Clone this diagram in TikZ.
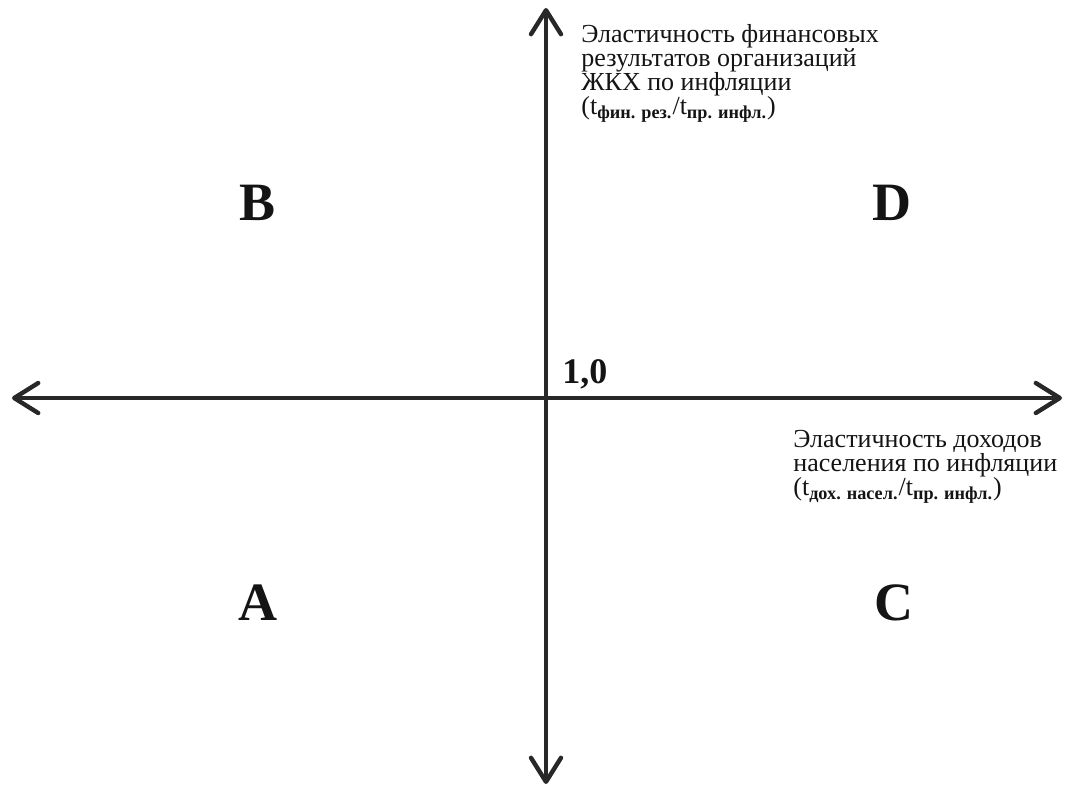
\documentclass[tikz,border=0pt]{standalone}
\usepackage{fontspec}
\setmainfont{Liberation Serif}
\usetikzlibrary{arrows.meta}
\usetikzlibrary{positioning}

\begin{document}
\begin{tikzpicture}[x=0.5pt, y=-0.5pt, >={Straight Barb[length=12pt, width=15pt, round]}, line cap=round, line join=round]
			
			% Colors
			\definecolor{axisA}{RGB}{40,40,40}
			\definecolor{textA}{RGB}{20,20,20}
			
			\tikzset{
				axis/.style={<->, line width=2.2pt, draw=axisA},
				lab/.style={align=left, inner sep=0pt, text=textA, font=\fontsize{13pt}{12pt}\selectfont},
				quad/.style={inner sep=0pt, text=textA, font=\fontsize{27pt}{30pt}\selectfont\bfseries},
				orig/.style={inner sep=0pt, text=textA, font=\fontsize{18pt}{20pt}\selectfont\bfseries},
			}
			
			\useasboundingbox (0,0) rectangle (1066,787);
			
			% --- Axes ends
			\coordinate (west) at (12,398);
			\coordinate (east) at (1062,398);
			\coordinate (north) at (546,8);
			\coordinate (south) at (546,784);
			\coordinate (origin) at (546,398);
			
			\draw[axis] (west) -- (east);
			\draw[axis] (south) -- (north);
			
			% --- Origin value
			\node[orig, anchor=base west] (one) at (562,383) {1,0};
			
			% --- Axis labels
			\node[lab, anchor=north west] (ylab) at (581,24) {%
				Эластичность финансовых\\
				результатов организаций\\
				ЖКХ по инфляции\\
				(t\textsubscript{\textbf{фин. рез.}}/t\textsubscript{\textbf{пр. инфл.}})
			};
			\node[lab, anchor=north west] (xlab) at (793,430) {%
				Эластичность доходов\\
				населения по инфляции\\
				(t\textsubscript{\textbf{дох. насел.}}/t\textsubscript{\textbf{пр. инфл.}})
			};
			
			% --- Quadrants
			\node[quad] (qB) at (258,203) {B};
			\node[quad] (qD) at (892,203) {D};
			\node[quad] (qA) at (258,603) {A};
			\node[quad] (qC) at (894,603) {C};
			
		\end{tikzpicture}
\end{document}
